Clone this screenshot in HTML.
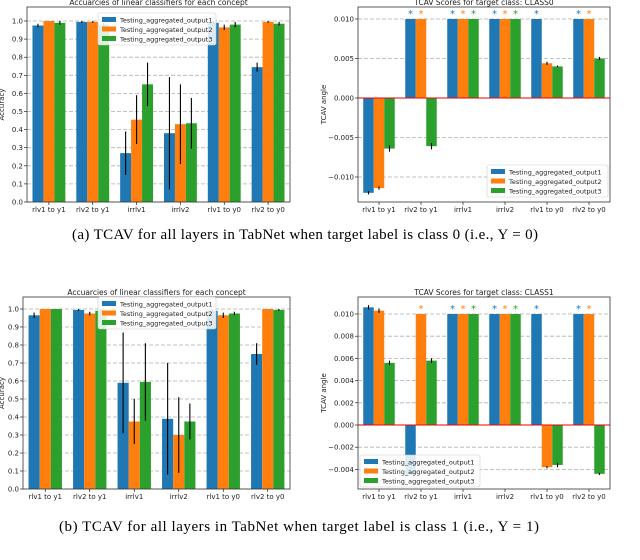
<!DOCTYPE html>
<html><head><meta charset="utf-8"><style>
html,body{margin:0;padding:0;background:#fff;width:640px;height:560px;overflow:hidden}
svg{display:block;font-family:"DejaVu Sans","Liberation Sans",sans-serif}
.cap{font-family:"Liberation Serif",serif}
</style></head><body>
<svg id="fig" width="640" height="560" viewBox="0 0 640 560" xmlns="http://www.w3.org/2000/svg">
<text class="cap" x="305" y="239" font-size="15" text-anchor="middle" textLength="466">(a) TCAV for all layers in TabNet when target label is class 0 (i.e., Y = 0)</text>
<text class="cap" x="299" y="531" font-size="15" text-anchor="middle" textLength="480">(b)  TCAV for all layers in TabNet when target label is class 1 (i.e., Y = 1)</text>
</svg>
<script>
const categories=["rlv1 to y1","rlv2 to y1","irrlv1","irrlv2","rlv1 to y0","rlv2 to y0"];
const seriesNames=["Testing_aggregated_output1","Testing_aggregated_output2","Testing_aggregated_output3"];
// chart A: accuracy class0
const accA1=[0.975,0.995,0.27,0.38,0.99,0.745];
const accA2=[1.0,0.995,0.455,0.43,0.965,0.995];
const accA3=[0.99,0.98,0.65,0.435,0.98,0.985];
const errA1=[0.01,0.005,0.12,0.31,0.01,0.025];
const errA2=[0,0.005,0.135,0.22,0.015,0.005];
const errA3=[0.01,0.01,0.12,0.14,0.015,0.01];
// chart B: tcav class0
const tcB1=[-0.012,0.01,0.01,0.01,0.01,0.01];
const tcB2=[-0.0114,0.01,0.01,0.01,0.0044,0.01];
const tcB3=[-0.0064,-0.0061,0.01,0.01,0.004,0.005];
const tcErrB1=[0.0002,0,0,0,0,0];
const tcErrB2=[0.0002,0,0,0,0.0002,0];
const tcErrB3=[0.0004,0.0004,0,0,0.0001,0.0002];
const starB1=[0,1,1,1,1,1];
const starB2=[0,1,1,1,0,1];
const starB3=[0,0,1,1,0,0];
// chart C: accuracy class1
const accC1=[0.965,0.995,0.59,0.39,0.99,0.75];
const accC2=[1.0,0.975,0.375,0.3,0.965,1.0];
const accC3=[1.0,0.99,0.595,0.375,0.975,0.995];
const errC1=[0.015,0.005,0.28,0.31,0.01,0.06];
const errC2=[0,0.01,0.125,0.21,0.015,0];
const errC3=[0,0.01,0.215,0.1,0.01,0.005];
// chart D: tcav class1
const tcD1=[0.0106,-0.0045,0.01,0.01,0.01,0.01];
const tcD2=[0.0103,0.01,0.01,0.01,-0.0038,0.01];
const tcD3=[0.0056,0.0058,0.01,0.01,-0.0036,-0.0044];
const tcErrD1=[0.0002,0,0,0,0,0];
const tcErrD2=[0.0002,0,0,0,0.0001,0];
const tcErrD3=[0.0002,0.0002,0,0,0.0002,0.0001];
const starD1=[0,0,1,1,1,1];
const starD2=[0,1,1,1,0,1];
const starD3=[0,0,1,1,0,0];
const accTicks=[0,0.1,0.2,0.3,0.4,0.5,0.6,0.7,0.8,0.9,1.0];
const accTickLabels=["0.0","0.1","0.2","0.3","0.4","0.5","0.6","0.7","0.8","0.9","1.0"];
const tcBTicks=[-0.01,-0.005,0,0.005,0.01];
const tcBTickLabels=["−0.010","−0.005","0.000","0.005","0.010"];
const tcDTicks=[-0.004,-0.002,0,0.002,0.004,0.006,0.008,0.01];
const tcDTickLabels=["−0.004","−0.002","0.000","0.002","0.004","0.006","0.008","0.010"];
const colors=["#1f77b4","#ff7f0e","#2ca02c"];
const NS="http://www.w3.org/2000/svg";
const svg=document.getElementById('fig');
function mk(tag,parent,attrs){const e=document.createElementNS(NS,tag);for(const k in attrs)e.setAttribute(k,attrs[k]);parent.appendChild(e);return e;}
function chart(o){
  const g=mk('g',svg,{});
  
  
  const y=v=>o.py0+(v-o.v0)*(o.py1-o.py0)/(o.v1-o.v0);
  const gw=(o.x1-o.x0)/6, bw=gw*0.25;
  const xc=i=>o.x0+gw*(i+0.5);
  o.ticks.forEach((t,i)=>{
    const yy=y(t);
    const gl=mk('line',g,{x1:o.x0,x2:o.x1,y1:yy,y2:yy,stroke:'#b0b0b0','stroke-width':0.8,'stroke-dasharray':'4,2'});
    
    
    mk('line',g,{x1:o.x0-3,x2:o.x0,y1:yy,y2:yy,stroke:'#000','stroke-width':0.6});
    const tl=mk('text',g,{x:o.x0-4,y:yy+2.5,'font-size':7,'text-anchor':'end',fill:'#222'});
    tl.textContent=o.tickLabels[i];
    
    
  });
  o.series.forEach((s,k)=>{
    s.forEach((v,i)=>{
      const cx=xc(i)+(k-1)*bw;
      const ya=y(v), yb=y(o.base);
      const r=mk('rect',g,{x:cx-bw/2,y:Math.min(ya,yb),width:bw,height:Math.abs(ya-yb),fill:colors[k]});
      
      
      const e=o.errs[k][i];
      if(e>0){const el=mk('line',g,{x1:cx,x2:cx,y1:y(v-e),y2:y(v+e),stroke:'#000','stroke-width':1.1});
        
        }
      if(o.stars&&o.stars[k][i]){
        const st=mk('text',g,{x:cx,y:ya-2,'font-size':10,'text-anchor':'middle',fill:colors[k]});
        st.textContent='*';
        
        
      }
    });
  });
  if(o.zero){const z=mk('line',g,{x1:o.x0,x2:o.x1,y1:y(0),y2:y(0),stroke:'#e00','stroke-width':1});
    
    }
  const fr=mk('rect',g,{x:o.x0,y:o.ft,width:o.x1-o.x0,height:o.fb-o.ft,fill:'none',stroke:'#333','stroke-width':0.8});
  
  
  categories.forEach((c,i)=>{
    mk('line',g,{x1:xc(i),x2:xc(i),y1:o.fb,y2:o.fb+3,stroke:'#000','stroke-width':0.6});
    const t=mk('text',g,{x:xc(i),y:o.fb+10,'font-size':7,'text-anchor':'middle',fill:'#222'});
    t.textContent=c;
    
    
  });
  const tt=mk('text',g,{x:(o.x0+o.x1)/2,y:o.ft-2,'font-size':7.5,'text-anchor':'middle',fill:'#222'});
  tt.textContent=o.title;
  
  
  const yt=mk('text',g,{x:0,y:0,'font-size':7,'text-anchor':'middle',fill:'#222',transform:`translate(${o.ytx},${(o.ft+o.fb)/2}) rotate(-90)`});
  yt.textContent=o.ytitle;
  
  
  const L=o.leg;
  const lg=mk('g',g,{});
  
  
  mk('rect',lg,{x:L[0],y:L[1],width:L[2],height:32,fill:'#fff','fill-opacity':0.85,stroke:'#ccc','stroke-width':0.6,rx:2});
  seriesNames.forEach((n,k)=>{
    mk('rect',lg,{x:L[0]+4,y:L[1]+4+k*9.5,width:14,height:5,fill:colors[k]});
    const t=mk('text',lg,{x:L[0]+22,y:L[1]+9.5+k*9.5,'font-size':6.5,fill:'#222'});
    t.textContent=n;
    
    
  });
}
chart({name:'accuracy-chart-class0',x0:27,x1:290,ft:7,fb:202,py0:202,py1:21,v0:0,v1:1,base:0,ticks:accTicks,tickLabels:accTickLabels,series:[accA1,accA2,accA3],errs:[errA1,errA2,errA3],title:'Accuarcies of linear classifiers for each concept',ytitle:'Accuracy',ytx:4,leg:[98,13,118]});
chart({name:'tcav-chart-class0',x0:358,x1:610,ft:7,fb:202,py0:98,py1:19,v0:0,v1:0.01,base:0,zero:true,ticks:tcBTicks,tickLabels:tcBTickLabels,series:[tcB1,tcB2,tcB3],errs:[tcErrB1,tcErrB2,tcErrB3],stars:[starB1,starB2,starB3],title:'TCAV Scores for target class: CLASS0',ytitle:'TCAV angle',ytx:326,leg:[487,165,121]});
chart({name:'accuracy-chart-class1',x0:23,x1:290,ft:297,fb:489,py0:489,py1:309,v0:0,v1:1,base:0,ticks:accTicks,tickLabels:accTickLabels,series:[accC1,accC2,accC3],errs:[errC1,errC2,errC3],title:'Accuarcies of linear classifiers for each concept',ytitle:'Accuracy',ytx:4,leg:[98,297,118]});
chart({name:'tcav-chart-class1',x0:358,x1:610,ft:297,fb:489,py0:425,py1:314,v0:0,v1:0.01,base:0,zero:true,ticks:tcDTicks,tickLabels:tcDTickLabels,series:[tcD1,tcD2,tcD3],errs:[tcErrD1,tcErrD2,tcErrD3],stars:[starD1,starD2,starD3],title:'TCAV Scores for target class: CLASS1',ytitle:'TCAV angle',ytx:326,leg:[360,455,120]});
</script>
</body></html>
